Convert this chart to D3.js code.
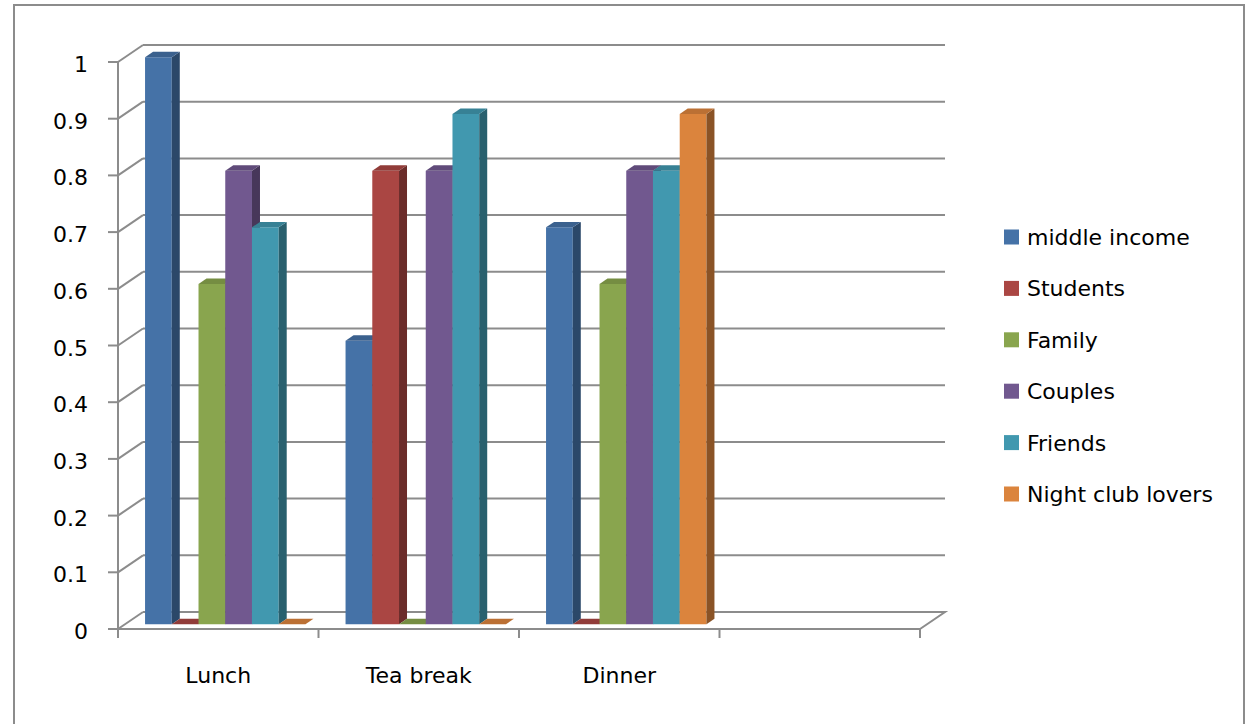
<!DOCTYPE html>
<html>
<head>
<meta charset="utf-8">
<script src="https://cdn.jsdelivr.net/npm/d3@7"></script>
<style>
  html, body { margin: 0; padding: 0; background: #fff; }
  svg { display: block; }
  text { font-family: "DejaVu Sans", sans-serif; fill: #000; }
</style>
</head>
<body>
<svg id="chart" width="1247" height="724"></svg>
<script>
// ---- data ----
const categories = ["Lunch", "Tea break", "Dinner", ""];
const seriesNames = ["middle income", "Students", "Family", "Couples", "Friends", "Night club lovers"];
const seriesColors = ["#4572A7", "#AA4643", "#89A54E", "#71588F", "#4198AF", "#DB843D"];
const middleIncome = [1, 0.5, 0.7, null];
const students     = [0, 0.8, 0, null];
const family       = [0.6, 0, 0.6, null];
const couples      = [0.8, 0.8, 0.8, null];
const friends      = [0.7, 0.9, 0.8, null];
const nightClub    = [0, 0, 0.9, null];
const tickValues = [0, 0.1, 0.2, 0.3, 0.4, 0.5, 0.6, 0.7, 0.8, 0.9, 1];
const tickLabels = ["0", "0.1", "0.2", "0.3", "0.4", "0.5", "0.6", "0.7", "0.8", "0.9", "1"];

const seriesValues = [middleIncome, students, family, couples, friends, nightClub];

// ---- layout ----
const svg = d3.select("#chart");
const W = 1247, H = 724;
const left = 118, right = 920;
const DX = 25, DY = -17;          // wall depth offset
const bT0 = 0.28, bT1 = 0.6;      // bar front/back depth fraction
const grid = "#8c8c8c";

const x0 = d3.scaleBand().domain(categories).range([left, right]).paddingInner(0).paddingOuter(0);
const x1 = d3.scaleBand().domain(seriesNames).range([0, x0.bandwidth()]).paddingInner(0).paddingOuter(0.75);
const y = d3.scaleLinear().domain([0, 1]).range([629, 62]);

// outer border
svg.append("rect").attr("x", 14).attr("y", 5).attr("width", 1230).attr("height", 760)
  .attr("fill", "#fff").attr("stroke", grid).attr("stroke-width", 2);

const walls = svg.append("g").attr("stroke", grid).attr("stroke-width", 2).attr("fill", "none");

// back wall gridlines
tickValues.forEach(v => {
  if (v === 0) return;
  walls.append("line")
    .attr("x1", left + DX).attr("x2", right + DX)
    .attr("y1", y(v) + DY).attr("y2", y(v) + DY);
});
// left wall diagonals
tickValues.forEach(v => {
  walls.append("line")
    .attr("x1", left).attr("y1", y(v))
    .attr("x2", left + DX).attr("y2", y(v) + DY);
});
// floor
walls.append("path").attr("d",
  `M${left + DX},${y(0) + DY} L${right + DX},${y(0) + DY} L${right},${y(0)}`);
walls.append("line").attr("x1", left).attr("x2", right).attr("y1", y(0)).attr("y2", y(0));
// vertical axis
walls.append("line").attr("x1", left).attr("x2", left).attr("y1", y(0)).attr("y2", y(1));
tickValues.forEach(v => {
  walls.append("line").attr("x1", left - 10).attr("x2", left).attr("y1", y(v)).attr("y2", y(v));
});
// category ticks
const bounds = categories.map(c => x0(c)).concat([right]);
bounds.forEach(b => {
  walls.append("line").attr("x1", b).attr("x2", b).attr("y1", y(0)).attr("y2", y(0) + 9);
});

// y labels
svg.append("g").selectAll("text").data(tickValues).join("text")
  .attr("x", 88).attr("y", d => y(d) + 10)
  .attr("text-anchor", "end").attr("font-size", 22)
  .text((d, i) => tickLabels[i]);

// x labels
svg.append("g").selectAll("text").data(categories).join("text")
  .attr("x", d => x0(d) + x0.bandwidth() / 2).attr("y", 683)
  .attr("text-anchor", "middle").attr("font-size", 22)
  .text(d => d);

// bars
const bars = svg.append("g");
const fdx = DX * bT0, fdy = DY * bT0;
const ddx = DX * (bT1 - bT0), ddy = DY * (bT1 - bT0);
categories.forEach((c, ci) => {
  seriesNames.forEach((s, si) => {
    const v = seriesValues[si][ci];
    if (v === null || v === undefined) return;
    const col = d3.color(seriesColors[si]);
    const xa = x0(c) + x1(s) + fdx;
    const xb = xa + x1.bandwidth();
    const yt = y(v) + fdy;
    const yb = y(0) + fdy;
    const g = bars.append("g");
    // front
    g.append("path").attr("d", `M${xa},${yt} L${xb},${yt} L${xb},${yb} L${xa},${yb} Z`)
      .attr("fill", col.formatHex());
    // side
    g.append("path").attr("d",
      `M${xb},${yt} L${xb + ddx},${yt + ddy} L${xb + ddx},${yb + ddy} L${xb},${yb} Z`)
      .attr("fill", col.darker(1.3).formatHex());
    // top
    g.append("path").attr("d",
      `M${xa},${yt} L${xb},${yt} L${xb + ddx},${yt + ddy} L${xa + ddx},${yt + ddy} Z`)
      .attr("fill", col.darker(0.45).formatHex());
  });
});

// legend
const legend = svg.append("g");
const legY0 = 237, legStep = 51.4;
seriesNames.forEach((s, i) => {
  legend.append("rect").attr("x", 1004).attr("y", legY0 + i * legStep - 7.5)
    .attr("width", 15).attr("height", 15).attr("fill", seriesColors[i]);
  legend.append("text").attr("x", 1027).attr("y", legY0 + i * legStep + 8)
    .attr("font-size", 22).text(s);
});
</script>
</body>
</html>
